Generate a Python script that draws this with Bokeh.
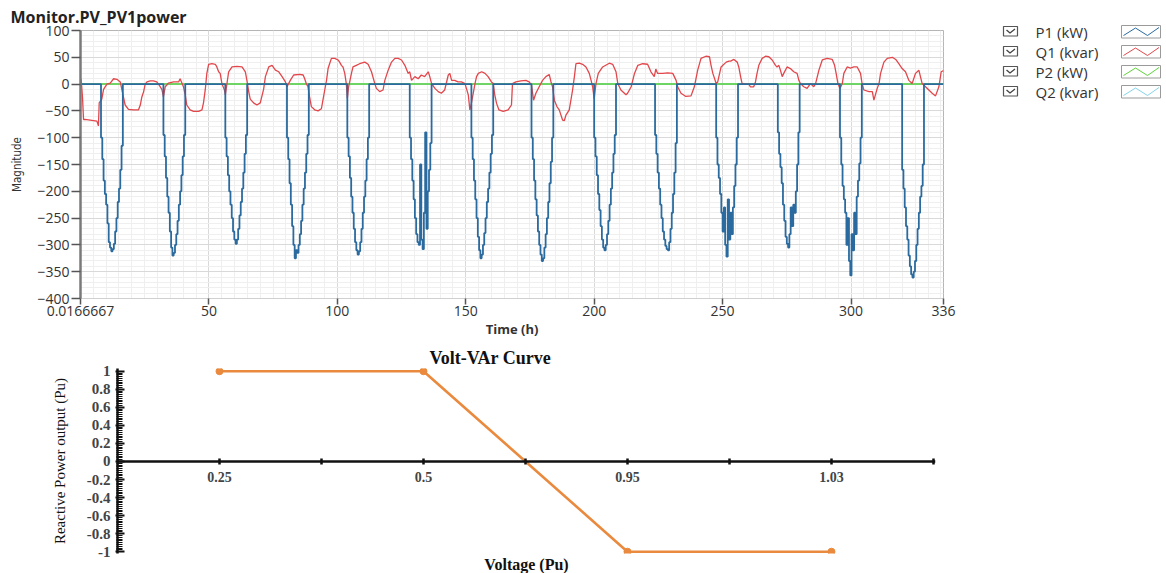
from bokeh.plotting import figure
from bokeh.layouts import column, row
from bokeh.models import Range1d, FixedTicker, CustomJSTickFormatter, Title
from bokeh.core.properties import value
from bokeh.embed import file_html
from bokeh.resources import INLINE

# ---------------- data: top chart (Monitor.PV_PV1power) ----------------
X_TICKS = [0.0166667, 50, 100, 150, 200, 250, 300, 336]
X_TICK_LABELS = ["0.0166667", "50", "100", "150", "200", "250", "300", "336"]
Y_TICKS = [-400, -350, -300, -250, -200, -150, -100, -50, 0, 50, 100]

# P1 (kW): daylight start hour of each of the 14 days and half-hourly values from it
P1_DAY_START = [8.0, 32.3, 56.4, 80.4, 103.9, 128.2, 152.2, 175.6, 200.0, 223.7, 247.5, 271.5, 295.7, 319.9]
P1_STEP_H = 0.5
P1_DAY_VALUES = [
    [-100, -140, -180, -205, -225, -260, -295, -305, -312, -308, -298, -275, -250, -220, -195, -160, -115],
    [-95, -135, -175, -210, -240, -275, -305, -320, -315, -300, -280, -255, -225, -200, -170, -135, -95],
    [-100, -135, -170, -200, -225, -250, -275, -290, -298, -290, -270, -245, -220, -195, -165, -130, -95],
    [-100, -140, -185, -225, -265, -300, -325, -310, -315, -300, -280, -255, -225, -195, -165, -130, -95],
    [-100, -135, -175, -210, -240, -270, -295, -310, -318, -312, -295, -270, -240, -210, -180, -140, -100],
    [-100, -140, -180, -215, -250, -280, -295, -300, -150, -290, -308, -240, -90, -270, -200, -160, -110],
    [-100, -140, -180, -215, -250, -285, -310, -325, -318, -300, -278, -250, -220, -195, -165, -130, -95],
    [-100, -140, -180, -215, -245, -275, -300, -318, -330, -325, -305, -280, -250, -220, -185, -145, -100],
    [-100, -135, -170, -205, -235, -265, -290, -305, -310, -300, -280, -255, -225, -195, -165, -130, -95],
    [-95, -130, -165, -195, -225, -250, -275, -290, -302, -308, -310, -295, -270, -240, -205, -165, -110],
    [-100, -150, -175, -205, -240, -275, -230, -300, -322, -215, -290, -240, -280, -230, -190, -150, -100],
    [-90, -130, -155, -185, -225, -255, -285, -298, -305, -280, -230, -265, -225, -240, -200, -150, -90],
    [-100, -150, -190, -215, -240, -300, -250, -330, -357, -280, -310, -240, -280, -210, -180, -148, -100],
    [-160, -195, -230, -265, -290, -320, -340, -355, -361, -350, -330, -300, -270, -240, -210, -190, -150],
]

# Q1 (kvar)
Q1_T = [0.02, 0.3, 0.8, 1.2, 1.8, 5.1, 6.4, 7.0, 7.3, 8.3, 9.0, 10.3, 11.6, 12.9, 14.2, 15.5, 16.1, 17.4,
        18.7, 20.7, 22.6, 23.3, 23.9, 24.6, 25.2, 25.9, 27.2, 28.4, 29.7, 30.4, 31.7, 32.3, 33.0, 34.3, 36.2,
        38.2, 38.8, 40.1, 40.8, 41.4, 42.7, 44.0, 46.0, 47.3, 47.9, 48.6, 49.2, 49.9, 51.2, 52.5, 53.1, 53.8,
        54.4, 55.1, 56.0, 56.4, 57.0, 57.7, 59.0, 60.9, 62.9, 64.2, 64.8, 65.5, 66.1, 67.4, 68.7, 70.0, 71.3,
        72.0, 73.3, 74.6, 75.9, 77.2, 78.5, 79.8, 80.4, 81.7, 83.0,
        85.4, 86.7, 87.3, 87.9, 88.6, 89.2, 89.9, 91.2, 92.5, 93.8, 94.4, 95.1, 95.8, 96.4, 97.0, 97.7, 99.0,
        100.3, 100.9, 101.6, 102.2, 102.9, 103.5, 103.9, 104.4, 105.5, 106.1, 107.4, 108.7, 110.7, 112.0,
        113.3, 114.6, 115.2, 116.5, 117.8, 118.5, 119.8, 121.1, 122.4, 123.7, 125.0, 126.3, 127.6, 128.2,
        128.9, 130.2, 131.5, 132.7, 134.0, 135.4, 136.0, 136.7, 138.0, 139.3, 140.5, 141.8, 143.2, 143.8,
        144.5, 145.7, 147.0, 148.3, 149.7, 151.0, 151.6, 152.2, 153.6, 154.2, 154.9, 156.2, 157.5, 158.7,
        160.0, 160.7, 161.3, 162.0, 162.9, 164.6, 166.5, 167.8,
        168.2, 169.5, 171.5, 173.4, 174.7, 175.6, 176.4, 177.3, 178.6, 179.9, 181.2, 182.5, 183.2, 183.8,
        184.5, 185.5, 186.4, 187.7, 188.4, 189.0, 190.3, 191.6, 192.3, 192.9, 194.2, 195.5, 196.8, 198.1,
        198.8, 199.4, 200.0, 200.7, 201.6, 203.3, 205.9, 207.2, 208.5, 209.2, 210.4, 212.4, 213.0, 214.4,
        215.7, 217.0, 218.9, 220.8, 222.1, 223.4, 224.0, 224.7, 226.7, 228.6, 230.6, 231.9, 232.5, 233.8,
        235.7, 237.7, 239.0, 240.3, 241.6, 243.5, 244.9, 245.5, 246.2, 247.5, 248.1, 249.4, 251.4, 252.5,
        253.1, 254.4, 255.7, 256.3, 257.0, 257.6, 258.9, 260.2, 260.8, 262.1, 262.8, 263.4, 264.1, 265.4,
        266.7, 268.0, 269.3, 270.6, 271.2, 271.9, 272.5, 273.2, 273.8, 275.1, 276.4, 277.7, 279.0, 279.7,
        280.3, 281.6, 282.9, 284.2, 285.5, 286.2, 287.5, 288.8, 290.7, 292.7, 293.6, 294.2, 294.9, 295.7,
        296.6, 297.2, 298.5, 299.8, 301.1, 302.4, 303.7, 304.3, 305.0, 307.0, 308.3, 308.9, 310.2, 310.9,
        311.5, 312.8, 314.1, 316.1, 317.4, 318.6, 319.9, 321.2, 322.5, 323.8, 325.1, 326.4, 327.7, 329.0,
        330.3, 331.6, 332.9, 334.2, 335.1, 336.0]
Q1_V = [10, 7, -25, -66, -66, -68, -69, -78, -35, -28, -10, 0, 2, 10, 9, 4, -10, -39,
        -47, -48, -48, -39, -24, -14, 0, 4, 6, 6, 4, 0, -10, -24, -5, 2, 4,
        4, 10, -5, -20, -39, -48, -51, -51, -48, -35, -10, 20, 37, 38, 37, 32, 23,
        20, 0, -10, -20, 0, 23, 32, 33, 32, 23, 7, -14, -28, -35, -39, -35, -10,
        14, 32, 35, 26, 23, 14, 4, -5, 7, 17,
        18, 17, 10, 1, -5, -24, -42, -48, -50, -46, -30, -11, 7, 29, 38, 48, 48,
        45, 41, 35, 32, 20, 1, -27, -5, 20, 32, 35, 38, 41, 37,
        23, 1, -8, -14, -11, 7, 26, 41, 48, 48, 45, 35, 20, 23,
        7, 14, 10, 17, 14, 23, 14, 1, -8, -14, -17, -11, 17, 20,
        7, 7, 4, 4, 1, -20, -48, -36, 1, 14, 20, 23, 20, 14,
        4, 1, -20, -36, -48, -51, -48, -39,
        1, 4, 6, 7, 4, -2, -30, -17, -5, 7, 14, 18, 4, -5,
        -30, -42, -48, -67, -68, -58, -48, -11, 14, 38, 39, 37, 32, 20,
        7, -5, -27, 1, 20, 32, 39, 37, 23, 1, -11, -20, -17, -5,
        20, 35, 38, 37, 23, 14, 28, 20, 20, 21, 20, 7, -5, -17,
        -23, -22, -5, 26, 48, 52, 51, 35, 20, 1, 4, 32, 41, 43,
        43, 46, 41, 32, 14, 1, 0, 0, -5, -5, 4, 20, 35, 48,
        52, 51, 45, 35, 32, 35, 26, 14, 20, 32, 29, 23, 20, 7,
        1, -5, -8, 1, -5, 1, 26, 45, 48, 46, 35, 20, 1, -8,
        1, 20, 32, 30, 32, 32, 20, 1, -11, -14, -14, -30, -8, 1,
        20, 41, 48, 50, 46, 38, 29, 23, 7, 1, 20, 26, 1, -5,
        -11, -17, -22, -5, 23, 25]

P2_T = [0.0166667, 336]
P2_V = [0, 0]
Q2_T = [0.0166667, 336]
Q2_V = [0, 0]

SERIES_NAMES = ["P1 (kW)", "Q1 (kvar)", "P2 (kW)", "Q2 (kvar)"]
SERIES_COLORS = ["#2a6a9e", "#e2474b", "#5fd23a", "#86d3ea"]

# ---------------- data: bottom chart (Volt-VAr Curve) ----------------
VOLT_LABELS = ["0.25", "0.5", "0.95", "1.03"]
Q_PU = [1, 1, -1, -1]
VQ_Y_TICKS = [-1, -0.8, -0.6, -0.4, -0.2, 0, 0.2, 0.4, 0.6, 0.8, 1]

# ---------------- build P1 step series ----------------
p1_t = [0.0166667]
p1_v = [0]
for start, vals in zip(P1_DAY_START, P1_DAY_VALUES):
    for i, val in enumerate(vals):
        p1_t.append(start + i * P1_STEP_H)
        p1_v.append(val)
    p1_t.append(start + len(vals) * P1_STEP_H)
    p1_v.append(0)
p1_t.append(336)
p1_v.append(0)

SANS = "Open Sans"

# ---------------- top figure ----------------
p = figure(width=960, height=340, x_range=Range1d(0.0166667, 336), y_range=Range1d(-400, 100),
           output_backend="svg", toolbar_location=None,
           min_border_left=80, min_border_right=17, min_border_top=30, min_border_bottom=41)
p.title.text = "Monitor.PV_PV1power"
p.title.align = "left"
p.title.offset = -70
p.title.standoff = 6
p.title.text_font = SANS
p.title.text_font_size = "16px"
p.title.text_font_style = "bold"
p.title.text_color = "#222222"
p.outline_line_color = "#b5b5b5"
p.background_fill_color = "white"

xt = FixedTicker(ticks=X_TICKS, minor_ticks=list(range(5, 336, 5)))
yt = FixedTicker(ticks=Y_TICKS, minor_ticks=list(range(-400, 101, 10)))
p.xaxis.ticker = xt
p.yaxis.ticker = yt
p.xgrid.ticker = xt
p.ygrid.ticker = yt
p.xaxis.formatter = CustomJSTickFormatter(args=dict(xvals=X_TICKS, xlabels=X_TICK_LABELS), code="""
let b = 0;
for (let k = 0; k < xvals.length; k++) { if (Math.abs(xvals[k] - tick) < Math.abs(xvals[b] - tick)) b = k; }
return xlabels[b];
""")
for g in (p.xgrid, p.ygrid):
    g.grid_line_color = "#d9d9d9"
    g.grid_line_width = 1
    g.minor_grid_line_color = "#efefef"
    g.minor_grid_line_width = 1

p.yaxis.axis_line_color = "#7a7a7a"
p.yaxis.axis_line_width = 2.5
p.yaxis.major_tick_out = 9
p.yaxis.major_tick_in = 0
p.yaxis.major_tick_line_color = "#555555"
p.yaxis.major_tick_line_width = 1.5
p.yaxis.minor_tick_line_color = None
p.yaxis.major_label_standoff = 2
p.yaxis.axis_label = "Magnitude"
p.yaxis.axis_label_text_font = "DejaVu Sans Condensed"
p.yaxis.axis_label_text_font_size = "11.5px"
p.yaxis.axis_label_text_font_style = "normal"
p.yaxis.axis_label_standoff = 10

p.xaxis.axis_line_color = "#d0d0d0"
p.xaxis.axis_line_width = 1
p.xaxis.major_tick_out = 6
p.xaxis.major_tick_in = 0
p.xaxis.major_tick_line_color = "#555555"
p.xaxis.major_tick_line_width = 1.5
p.xaxis.minor_tick_line_color = None
p.xaxis.major_label_standoff = 1
p.xaxis.axis_label = "Time (h)"
p.xaxis.axis_label_text_font = SANS
p.xaxis.axis_label_text_font_size = "13px"
p.xaxis.axis_label_text_font_style = "bold"
p.xaxis.axis_label_standoff = 1

for ax in (p.xaxis, p.yaxis):
    ax.major_label_text_font = SANS
    ax.major_label_text_font_size = "14px"
    ax.major_label_text_color = "#333333"
    ax.axis_label_text_color = "#333333"

p.line(Q2_T, Q2_V, color=SERIES_COLORS[3], line_width=1.5)
p.line(P2_T, P2_V, color=SERIES_COLORS[2], line_width=1.5)
p.line(Q1_T, Q1_V, color=SERIES_COLORS[1], line_width=1.3)
p.step(p1_t, p1_v, mode="after", color=SERIES_COLORS[0], line_width=1.8)

# ---------------- legend panel (own frame covering its whole canvas, y in page pixels) ----------------
lg = figure(width=206, height=340, x_range=Range1d(0, 206), y_range=Range1d(340, 0),
            output_backend="svg", toolbar_location=None, min_border=0, title=None,
            x_axis_location=None, y_axis_location=None, align="start")
lg.outline_line_color = None
lg.grid.visible = False
rows_y = [31, 51, 71, 91]
for yc, name, col in zip(rows_y, SERIES_NAMES, SERIES_COLORS):
    lg.quad(left=43, right=57, top=yc - 5, bottom=yc + 4.5, fill_color="white",
            line_color="#555555", line_width=1.2)
    lg.line([46, 49.5, 54.5], [yc - 1.5, yc + 1.5, yc - 2.5], color="#444444", line_width=1.3)
    lg.text(x=[75], y=[yc], text=[name], text_font=value(SANS), text_font_size="15px",
            text_color="#333333", text_baseline="middle", text_align="left")
    lg.quad(left=161, right=200, top=yc - 6, bottom=yc + 6.5, fill_color="white",
            line_color="#9a9a9a", line_width=1)
    lg.line([163, 175, 187, 198.5], [yc + 4, yc - 3.5, yc + 4, yc - 4], color=col, line_width=1)

# ---------------- bottom figure ----------------
SERIF = "Liberation Serif"
ORANGE = "#e98a3e"
q = figure(width=1166, height=233, x_range=Range1d(-0.5, 3.51), y_range=Range1d(-1.02, 1.03),
           output_backend="svg", toolbar_location=None,
           min_border_left=117, min_border_right=231, min_border_top=28, min_border_bottom=20)
q.outline_line_color = None
q.grid.visible = False
q.title.text = "Volt-VAr Curve"
q.title.align = "left"
q.title.offset = 312
q.title.standoff = 2
q.title.text_font = SERIF
q.title.text_font_size = "18px"
q.title.text_font_style = "bold"
q.title.text_color = "#111111"

q.xaxis.fixed_location = 0
q.xaxis.ticker = FixedTicker(ticks=[-0.5, 0, 0.5, 1, 1.5, 2, 2.5, 3, 3.5], minor_ticks=[])
q.xaxis.formatter = CustomJSTickFormatter(args=dict(vlabels=VOLT_LABELS), code="""
const i = Math.round(tick);
if (Math.abs(tick - i) < 1e-6 && i >= 0 && i < vlabels.length) return vlabels[i];
return "";
""")
q.xaxis.axis_line_color = "#111111"
q.xaxis.axis_line_width = 2.5
q.xaxis.major_tick_in = 3
q.xaxis.major_tick_out = 3
q.xaxis.major_tick_line_width = 2.5
q.xaxis.major_tick_line_color = "#111111"
q.xaxis.major_label_text_font = SERIF
q.xaxis.major_label_text_font_style = "bold"
q.xaxis.major_label_text_font_size = "14px"
q.xaxis.major_label_standoff = 8
q.add_layout(Title(text="Voltage (Pu)", align="center", text_font=SERIF, text_font_size="16px",
                   text_font_style="bold", text_color="#111111", standoff=0), "below")

q.yaxis.ticker = FixedTicker(ticks=VQ_Y_TICKS, minor_ticks=[k / 50 for k in range(-50, 51)])
q.yaxis.formatter = CustomJSTickFormatter(code="return (Math.round(tick * 10) / 10).toString();")
q.yaxis.axis_line_color = "#111111"
q.yaxis.axis_line_width = 2.5
q.yaxis.major_tick_in = 7
q.yaxis.major_tick_out = 2
q.yaxis.major_tick_line_width = 2
q.yaxis.major_tick_line_color = "#111111"
q.yaxis.minor_tick_in = 5
q.yaxis.minor_tick_out = 1
q.yaxis.minor_tick_line_width = 1.2
q.yaxis.minor_tick_line_color = "#111111"
q.yaxis.major_label_text_font = SERIF
q.yaxis.major_label_text_font_style = "bold"
q.yaxis.major_label_text_font_size = "15px"
q.yaxis.major_label_standoff = 5
q.yaxis.axis_label = "Reactive Power output (Pu)"
q.yaxis.axis_label_text_font = SERIF
q.yaxis.axis_label_text_font_size = "15px"
q.yaxis.axis_label_text_font_style = "normal"
q.yaxis.axis_label_text_color = "#111111"
q.yaxis.axis_label_standoff = 16

vx = list(range(len(VOLT_LABELS)))
q.line(vx, Q_PU, color=ORANGE, line_width=2.6)
q.scatter(vx, Q_PU, size=7, color=ORANGE)

layout = column(row(p, column(lg)), q)
open("out.html", "w").write(file_html(layout, INLINE))
